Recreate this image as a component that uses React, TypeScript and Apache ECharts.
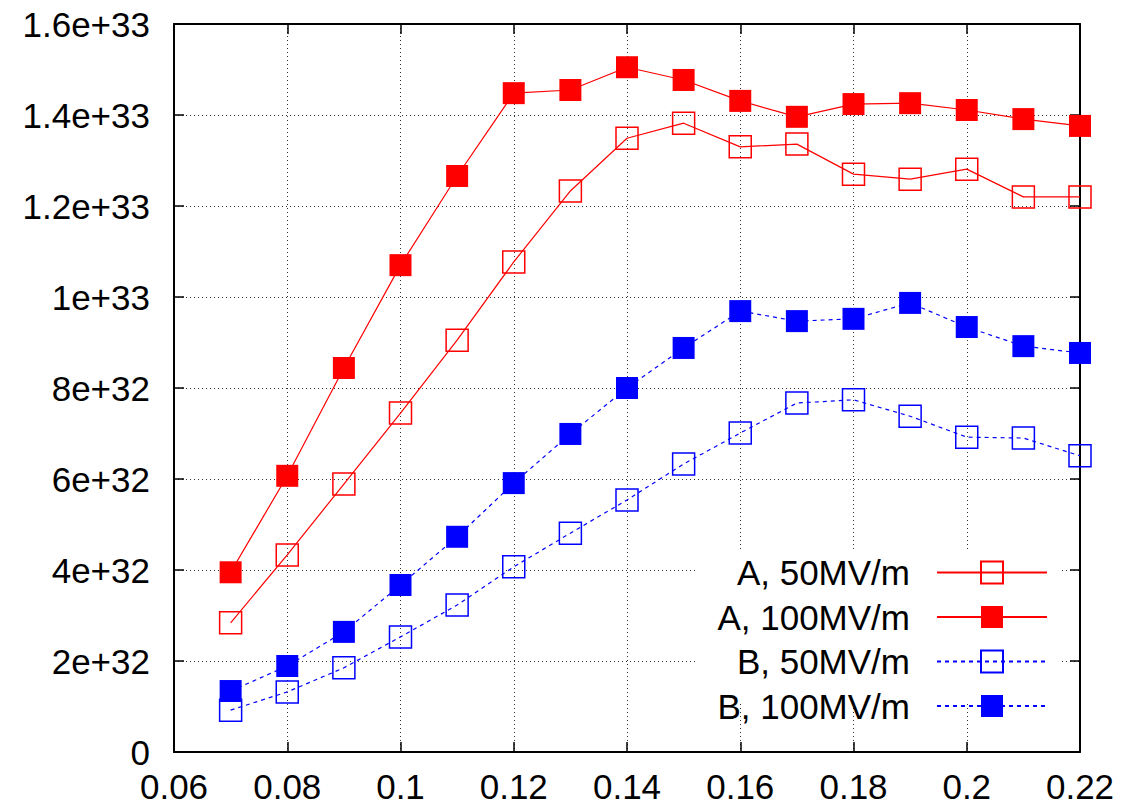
import React, { useEffect, useRef } from "react";
import * as echarts from "echarts";

const xValues = [0.07, 0.08, 0.09, 0.1, 0.11, 0.12, 0.13, 0.14, 0.15, 0.16, 0.17, 0.18, 0.19, 0.2, 0.21, 0.22];
const seriesNames = ["A, 50MV/m", "A, 100MV/m", "B, 50MV/m", "B, 100MV/m"];
const a50 = [2.84e32, 4.33e32, 5.89e32, 7.45e32, 9.05e32, 1.077e33, 1.233e33, 1.349e33, 1.382e33, 1.33e33, 1.336e33, 1.27e33, 1.259e33, 1.281e33, 1.22e33, 1.22e33];
const a100 = [3.95e32, 6.07e32, 8.44e32, 1.07e33, 1.266e33, 1.448e33, 1.455e33, 1.505e33, 1.477e33, 1.431e33, 1.396e33, 1.424e33, 1.426e33, 1.411e33, 1.391e33, 1.376e33];
const b50 = [0.92e32, 1.32e32, 1.85e32, 2.53e32, 3.23e32, 4.07e32, 4.81e32, 5.54e32, 6.33e32, 7.01e32, 7.67e32, 7.74e32, 7.38e32, 6.92e32, 6.9e32, 6.51e32];
const b100 = [1.34e32, 1.89e32, 2.64e32, 3.67e32, 4.73e32, 5.91e32, 6.99e32, 8.0e32, 8.88e32, 9.69e32, 9.47e32, 9.52e32, 9.87e32, 9.34e32, 8.92e32, 8.77e32];

const FONT = "'Liberation Sans', Arial, sans-serif";
const FS = 35;

function yLabel(v: number): string {
  const k = Math.round(v / 1e32);
  if (k === 0) return "0";
  if (k < 10) return `${k}e+32`;
  const m = k / 10;
  return `${m}e+33`;
}

export default function App() {
  const ref = useRef<HTMLDivElement>(null);
  useEffect(() => {
    document.body.style.margin = "0";
    const chart = echarts.init(ref.current!, null, { renderer: "svg" });
    const mk = (vals: number[]) => xValues.map((x, i) => [x, vals[i]]);
    const red = "#ff0000";
    const blue = "#0000ff";
    const openStyle = (c: string) => ({ color: "rgba(0,0,0,0)", borderColor: c, borderWidth: 1.5 });
    const filledStyle = (c: string) => ({ color: c, borderWidth: 0 });
    const tickStyle = { show: true, inside: true, length: 10, lineStyle: { color: "#000", width: 1.5 } };
    const axisLine = { show: true, onZero: false, lineStyle: { color: "#000", width: 2 } };
    chart.setOption({
      animation: false,
      backgroundColor: "#fff",
      grid: { left: 174, right: 59, top: 24, bottom: 54 },
      legend: {
        orient: "vertical",
        align: "right",
        right: 91,
        top: 555,
        padding: 0,
        itemWidth: 110,
        itemHeight: 27.5,
        itemGap: 9.5,
        textStyle: { fontFamily: FONT, fontSize: FS, color: "#000", padding: [0, 22, 0, 0] },
        data: seriesNames,
        z: 10,
      },
      graphic: [
        {
          type: "rect",
          z: 5,
          shape: { x: 696, y: 551, width: 366, height: 151 },
          style: { fill: "#fff" },
        },
      ],
      xAxis: [
        {
          type: "value",
          min: 0.06,
          max: 0.22,
          interval: 0.02,
          position: "bottom",
          axisLine,
          axisTick: tickStyle,
          axisLabel: { fontFamily: FONT, fontSize: FS, lineHeight: 34, color: "#000", margin: 17 },
          splitLine: { show: true, lineStyle: { color: "#333", width: 1, type: [1, 3] } },
        },
        {
          type: "value",
          min: 0.06,
          max: 0.22,
          interval: 0.02,
          position: "top",
          axisLine,
          axisTick: tickStyle,
          axisLabel: { show: false },
          splitLine: { show: false },
        },
      ],
      yAxis: [
        {
          type: "value",
          min: 0,
          max: 1.6e33,
          interval: 2e32,
          position: "left",
          axisLine,
          axisTick: tickStyle,
          axisLabel: { fontFamily: FONT, fontSize: FS, color: "#000", margin: 24, formatter: yLabel },
          splitLine: { show: true, lineStyle: { color: "#333", width: 1, type: [1, 3] } },
        },
        {
          type: "value",
          min: 0,
          max: 1.6e33,
          interval: 2e32,
          position: "right",
          axisLine,
          axisTick: tickStyle,
          axisLabel: { show: false },
          splitLine: { show: false },
        },
      ],
      series: [
        {
          name: seriesNames[0],
          type: "line",
          data: mk(a50),
          symbol: "rect",
          symbolSize: 22,
          itemStyle: openStyle(red),
          lineStyle: { color: red, width: 1.2, type: "solid" },
          z: 3,
        },
        {
          name: seriesNames[1],
          type: "line",
          data: mk(a100),
          symbol: "rect",
          symbolSize: 22,
          itemStyle: filledStyle(red),
          lineStyle: { color: red, width: 1.2, type: "solid" },
          z: 3,
        },
        {
          name: seriesNames[2],
          type: "line",
          data: mk(b50),
          symbol: "rect",
          symbolSize: 22,
          itemStyle: openStyle(blue),
          lineStyle: { color: blue, width: 1.2, type: [4, 4] },
          z: 3,
        },
        {
          name: seriesNames[3],
          type: "line",
          data: mk(b100),
          symbol: "rect",
          symbolSize: 22,
          itemStyle: filledStyle(blue),
          lineStyle: { color: blue, width: 1.2, type: [4, 4] },
          z: 3,
        },
      ],
    });
    return () => chart.dispose();
  }, []);
  return <div ref={ref} style={{ width: 1139, height: 806 }} />;
}
